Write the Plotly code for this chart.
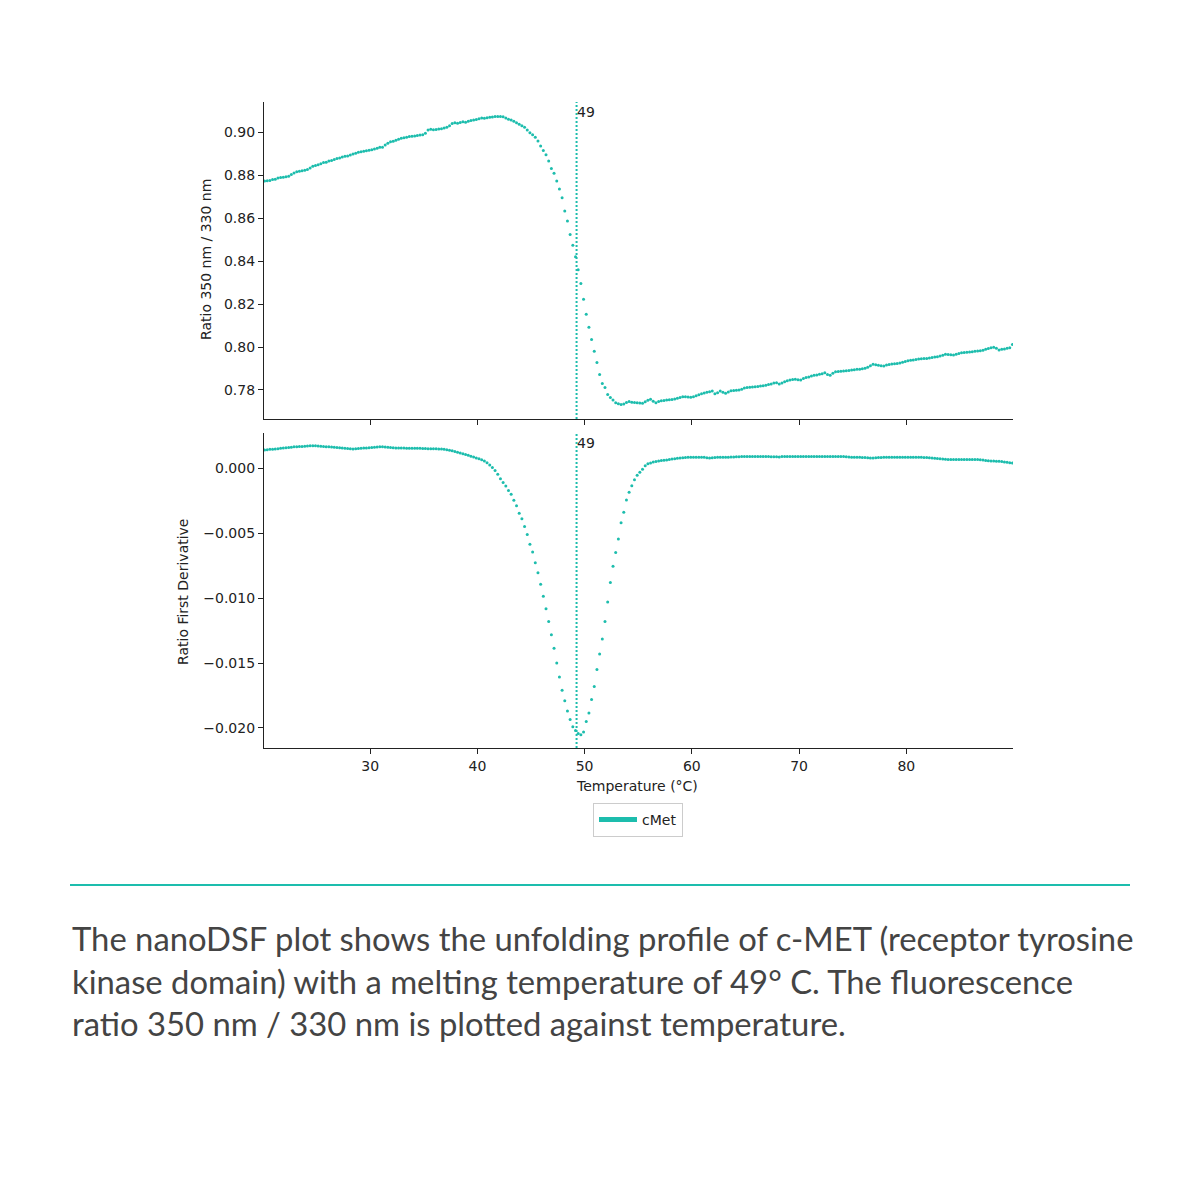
import plotly.graph_objects as go

# nanoDSF melt curve of cMet: ratio 350/330 nm and its first derivative

TEAL = "#1dbdad"
INK = "#222222"

temperature = [
    20.15, 20.4, 20.65, 20.9,
    21.15, 21.4, 21.65, 21.9,
    22.15, 22.4, 22.65, 22.9,
    23.15, 23.4, 23.65, 23.9,
    24.15, 24.4, 24.65, 24.9,
    25.15, 25.4, 25.65, 25.9,
    26.15, 26.4, 26.65, 26.9,
    27.15, 27.4, 27.65, 27.9,
    28.15, 28.4, 28.65, 28.9,
    29.15, 29.4, 29.65, 29.9,
    30.15, 30.4, 30.65, 30.9,
    31.15, 31.4, 31.65, 31.9,
    32.15, 32.4, 32.65, 32.9,
    33.15, 33.4, 33.65, 33.9,
    34.15, 34.4, 34.65, 34.9,
    35.15, 35.4, 35.65, 35.9,
    36.15, 36.4, 36.65, 36.9,
    37.15, 37.4, 37.65, 37.9,
    38.15, 38.4, 38.65, 38.9,
    39.15, 39.4, 39.65, 39.9,
    40.15, 40.4, 40.65, 40.9,
    41.15, 41.4, 41.65, 41.9,
    42.15, 42.4, 42.65, 42.9,
    43.15, 43.4, 43.65, 43.9,
    44.15, 44.4, 44.65, 44.9,
    45.15, 45.4, 45.65, 45.9,
    46.15, 46.4, 46.65, 46.9,
    47.15, 47.4, 47.65, 47.9,
    48.15, 48.4, 48.65, 48.9,
    49.15, 49.4, 49.65, 49.9,
    50.15, 50.4, 50.65, 50.9,
    51.15, 51.4, 51.65, 51.9,
    52.15, 52.4, 52.65, 52.9,
    53.15, 53.4, 53.65, 53.9,
    54.15, 54.4, 54.65, 54.9,
    55.15, 55.4, 55.65, 55.9,
    56.15, 56.4, 56.65, 56.9,
    57.15, 57.4, 57.65, 57.9,
    58.15, 58.4, 58.65, 58.9,
    59.15, 59.4, 59.65, 59.9,
    60.15, 60.4, 60.65, 60.9,
    61.15, 61.4, 61.65, 61.9,
    62.15, 62.4, 62.65, 62.9,
    63.15, 63.4, 63.65, 63.9,
    64.15, 64.4, 64.65, 64.9,
    65.15, 65.4, 65.65, 65.9,
    66.15, 66.4, 66.65, 66.9,
    67.15, 67.4, 67.65, 67.9,
    68.15, 68.4, 68.65, 68.9,
    69.15, 69.4, 69.65, 69.9,
    70.15, 70.4, 70.65, 70.9,
    71.15, 71.4, 71.65, 71.9,
    72.15, 72.4, 72.65, 72.9,
    73.15, 73.4, 73.65, 73.9,
    74.15, 74.4, 74.65, 74.9,
    75.15, 75.4, 75.65, 75.9,
    76.15, 76.4, 76.65, 76.9,
    77.15, 77.4, 77.65, 77.9,
    78.15, 78.4, 78.65, 78.9,
    79.15, 79.4, 79.65, 79.9,
    80.15, 80.4, 80.65, 80.9,
    81.15, 81.4, 81.65, 81.9,
    82.15, 82.4, 82.65, 82.9,
    83.15, 83.4, 83.65, 83.9,
    84.15, 84.4, 84.65, 84.9,
    85.15, 85.4, 85.65, 85.9,
    86.15, 86.4, 86.65, 86.9,
    87.15, 87.4, 87.65, 87.9,
    88.15, 88.4, 88.65, 88.9,
    89.15, 89.4, 89.65, 89.9,
]

ratio_350_330 = [
    0.8772, 0.8774, 0.8775, 0.8779,
    0.8781, 0.8786, 0.8789, 0.8790,
    0.8792, 0.8795, 0.8803, 0.8810,
    0.8816, 0.8818, 0.8820, 0.8822,
    0.8826, 0.8833, 0.8841, 0.8845,
    0.8848, 0.8853, 0.8858, 0.8860,
    0.8865, 0.8868, 0.8873, 0.8877,
    0.8880, 0.8884, 0.8887, 0.8889,
    0.8893, 0.8898, 0.8902, 0.8906,
    0.8909, 0.8911, 0.8913, 0.8915,
    0.8918, 0.8921, 0.8925, 0.8929,
    0.8930, 0.8940, 0.8948, 0.8955,
    0.8957, 0.8962, 0.8967, 0.8971,
    0.8974, 0.8976, 0.8979, 0.8981,
    0.8982, 0.8984, 0.8986, 0.8988,
    0.8995, 0.9010, 0.9013, 0.9011,
    0.9012, 0.9014, 0.9016, 0.9019,
    0.9022, 0.9030, 0.9040, 0.9043,
    0.9041, 0.9045, 0.9048, 0.9046,
    0.9050, 0.9054, 0.9056, 0.9058,
    0.9062, 0.9065, 0.9064, 0.9067,
    0.9069, 0.9070, 0.9072, 0.9073,
    0.9072, 0.9071, 0.9066, 0.9060,
    0.9056, 0.9051, 0.9044, 0.9037,
    0.9030, 0.9022, 0.9010, 0.8997,
    0.8988, 0.8976, 0.8958, 0.8935,
    0.8914, 0.8895, 0.8866, 0.8831,
    0.8808, 0.8772, 0.8735, 0.8695,
    0.8633, 0.8586, 0.8524, 0.8474,
    0.8420, 0.8360, 0.8295, 0.8222,
    0.8152, 0.8092, 0.8035, 0.7980,
    0.7928, 0.7872, 0.7830, 0.7811,
    0.7779, 0.7765, 0.7753, 0.7741,
    0.7736, 0.7733, 0.7735, 0.7742,
    0.7746, 0.7743, 0.7742, 0.7741,
    0.7740, 0.7738, 0.7745, 0.7752,
    0.7757, 0.7748, 0.7741, 0.7746,
    0.7750, 0.7751, 0.7753, 0.7755,
    0.7756, 0.7758, 0.7762, 0.7765,
    0.7769, 0.7768, 0.7767, 0.7766,
    0.7768, 0.7773, 0.7778, 0.7782,
    0.7786, 0.7789, 0.7792, 0.7795,
    0.7782, 0.7787, 0.7795, 0.7790,
    0.7785, 0.7791, 0.7797, 0.7798,
    0.7799, 0.7800, 0.7803, 0.7809,
    0.7812, 0.7813, 0.7814, 0.7815,
    0.7816, 0.7818, 0.7820, 0.7822,
    0.7825, 0.7828, 0.7832, 0.7834,
    0.7828, 0.7833, 0.7838, 0.7843,
    0.7846, 0.7849, 0.7850, 0.7848,
    0.7847, 0.7853, 0.7858, 0.7861,
    0.7865, 0.7868, 0.7870, 0.7873,
    0.7876, 0.7880, 0.7872, 0.7868,
    0.7878, 0.7885, 0.7886, 0.7887,
    0.7888, 0.7890, 0.7891, 0.7893,
    0.7894, 0.7896, 0.7897, 0.7899,
    0.7901, 0.7906, 0.7913, 0.7920,
    0.7918, 0.7915, 0.7913, 0.7912,
    0.7916, 0.7919, 0.7921, 0.7922,
    0.7923, 0.7925, 0.7929, 0.7933,
    0.7936, 0.7938, 0.7940, 0.7942,
    0.7944, 0.7945, 0.7946, 0.7947,
    0.7949, 0.7951, 0.7953, 0.7955,
    0.7958, 0.7962, 0.7966, 0.7965,
    0.7964, 0.7963, 0.7966, 0.7970,
    0.7973, 0.7975, 0.7976, 0.7977,
    0.7978, 0.7980, 0.7981, 0.7983,
    0.7985, 0.7989, 0.7993, 0.7996,
    0.7999, 0.7994, 0.7986, 0.7989,
    0.7991, 0.7994, 0.7997, 0.8012,
]

ratio_first_derivative = [
    0.00140, 0.00142, 0.00144, 0.00145,
    0.00147, 0.00149, 0.00152, 0.00154,
    0.00156, 0.00158, 0.00161, 0.00164,
    0.00165, 0.00166, 0.00167, 0.00168,
    0.00170, 0.00172, 0.00172, 0.00171,
    0.00170, 0.00168, 0.00166, 0.00165,
    0.00164, 0.00163, 0.00161, 0.00159,
    0.00157, 0.00155, 0.00153, 0.00151,
    0.00149, 0.00147, 0.00148, 0.00150,
    0.00152, 0.00154, 0.00155, 0.00157,
    0.00159, 0.00161, 0.00163, 0.00165,
    0.00164, 0.00162, 0.00160, 0.00158,
    0.00156, 0.00154, 0.00154, 0.00154,
    0.00154, 0.00153, 0.00153, 0.00153,
    0.00153, 0.00152, 0.00152, 0.00151,
    0.00150, 0.00149, 0.00149, 0.00148,
    0.00148, 0.00147, 0.00146, 0.00144,
    0.00141, 0.00137, 0.00133, 0.00128,
    0.00122, 0.00116, 0.00110, 0.00104,
    0.00098, 0.00092, 0.00085, 0.00078,
    0.00071, 0.00064, 0.00054, 0.00041,
    0.00024, 0.00004, -0.00019, -0.00048,
    -0.00083, -0.00110, -0.00138, -0.00172,
    -0.00202, -0.00247, -0.00290, -0.00347,
    -0.00390, -0.00449, -0.00512, -0.00587,
    -0.00646, -0.00728, -0.00805, -0.00894,
    -0.00987, -0.01083, -0.01181, -0.01283,
    -0.01386, -0.01500, -0.01607, -0.01710,
    -0.01790, -0.01870, -0.01935, -0.01990,
    -0.02020, -0.02043, -0.02052, -0.02030,
    -0.01950, -0.01885, -0.01780, -0.01680,
    -0.01550, -0.01430, -0.01315, -0.01180,
    -0.01030, -0.00880, -0.00755, -0.00650,
    -0.00545, -0.00420, -0.00340, -0.00245,
    -0.00185, -0.00136, -0.00090, -0.00055,
    -0.00032, -0.00008, 0.00018, 0.00033,
    0.00040, 0.00046, 0.00051, 0.00055,
    0.00058, 0.00061, 0.00063, 0.00066,
    0.00069, 0.00072, 0.00075, 0.00077,
    0.00079, 0.00081, 0.00083, 0.00083,
    0.00083, 0.00083, 0.00083, 0.00083,
    0.00083, 0.00080, 0.00078, 0.00080,
    0.00082, 0.00083, 0.00083, 0.00083,
    0.00083, 0.00084, 0.00085, 0.00086,
    0.00087, 0.00088, 0.00089, 0.00090,
    0.00090, 0.00090, 0.00090, 0.00090,
    0.00090, 0.00090, 0.00090, 0.00089,
    0.00089, 0.00088, 0.00087, 0.00088,
    0.00085, 0.00089, 0.00090, 0.00090,
    0.00090, 0.00090, 0.00090, 0.00090,
    0.00090, 0.00090, 0.00090, 0.00090,
    0.00090, 0.00090, 0.00090, 0.00090,
    0.00090, 0.00090, 0.00090, 0.00090,
    0.00090, 0.00090, 0.00090, 0.00090,
    0.00090, 0.00088, 0.00085, 0.00084,
    0.00083, 0.00083, 0.00083, 0.00082,
    0.00081, 0.00080, 0.00078, 0.00077,
    0.00079, 0.00081, 0.00082, 0.00083,
    0.00083, 0.00083, 0.00083, 0.00083,
    0.00083, 0.00083, 0.00083, 0.00083,
    0.00083, 0.00083, 0.00083, 0.00083,
    0.00083, 0.00083, 0.00082, 0.00081,
    0.00079, 0.00077, 0.00075, 0.00074,
    0.00072, 0.00070, 0.00068, 0.00067,
    0.00067, 0.00067, 0.00067, 0.00067,
    0.00067, 0.00067, 0.00067, 0.00067,
    0.00067, 0.00067, 0.00066, 0.00064,
    0.00062, 0.00059, 0.00057, 0.00055,
    0.00054, 0.00053, 0.00052, 0.00050,
    0.00047, 0.00044, 0.00042, 0.00039,
]

melting_temp = 49.25
temp_ticks = [30, 40, 50, 60, 70, 80]
ratio_ticks = [0.78, 0.80, 0.82, 0.84, 0.86, 0.88, 0.90]
deriv_ticks = [-0.020, -0.015, -0.010, -0.005, 0.000]

caption = (
    "The nanoDSF plot shows the unfolding profile of c-MET (receptor tyrosine<br>"
    "kinase domain) with a melting temperature of 49° C. The fluorescence<br>"
    "ratio 350 nm / 330 nm is plotted against temperature."
)

# page body has an 8px margin, so screen pixels are shifted before converting
PAGE = 1200
OFFSET = 8


def px(x):
    return (x - OFFSET) / PAGE


def py(y):
    return 1 - (y - OFFSET) / PAGE


fig = go.Figure()
fig.add_trace(go.Scatter(
    x=temperature, y=ratio_350_330, mode="markers",
    marker=dict(size=3, color=TEAL), xaxis="x", yaxis="y", showlegend=False,
))
fig.add_trace(go.Scatter(
    x=temperature, y=ratio_first_derivative, mode="markers",
    marker=dict(size=3, color=TEAL), xaxis="x2", yaxis="y2", showlegend=False,
))
# legend entry only (thick line swatch like matplotlib)
fig.add_trace(go.Scatter(
    x=[None], y=[None], mode="lines", name="cMet",
    line=dict(color=TEAL, width=5), xaxis="x2", yaxis="y2",
))

axis_style = dict(
    showline=True, linecolor=INK, linewidth=1.2, mirror=False,
    ticks="outside", ticklen=5, tickwidth=1.2, tickcolor=INK,
    showgrid=False, zeroline=False,
    tickfont=dict(family="DejaVu Sans", size=14, color=INK),
)
x_dom = [px(264), px(1013)]
x_range = [20.1, 89.95]

fig.update_layout(
    width=PAGE, height=PAGE, autosize=False,
    margin=dict(l=0, r=0, t=0, b=0),
    paper_bgcolor="white", plot_bgcolor="white",
    font=dict(family="DejaVu Sans", size=14, color=INK),
    xaxis=dict(axis_style, domain=x_dom, anchor="y", range=x_range,
               tickvals=temp_ticks, showticklabels=False),
    yaxis=dict(axis_style, domain=[py(419), py(102)], anchor="x",
               range=[0.7665, 0.914], tickvals=ratio_ticks, tickformat=".2f"),
    xaxis2=dict(axis_style, domain=x_dom, anchor="y2", range=x_range,
                tickvals=temp_ticks),
    yaxis2=dict(axis_style, domain=[py(748), py(433)], anchor="x2",
                range=[-0.02154, 0.0027], tickvals=deriv_ticks, tickformat=".3f"),
    legend=dict(
        x=px(638), xanchor="center", y=py(803), yanchor="top",
        bordercolor="#cccccc", borderwidth=1, bgcolor="white",
        itemwidth=38, tracegroupgap=0,
        font=dict(family="DejaVu Sans", size=14, color=INK),
    ),
)

# dotted melting temperature marker in both panels
for yref in ["y domain", "y2 domain"]:
    fig.add_shape(type="line", xref="x", yref=yref,
                  x0=melting_temp, x1=melting_temp, y0=0, y1=1,
                  line=dict(color=TEAL, width=2, dash="2px,2px"))
    fig.add_annotation(x=melting_temp, xref="x", y=1, yref=yref,
                       text=str(int(melting_temp)), showarrow=False,
                       xanchor="left", yanchor="top", xshift=-2,
                       font=dict(family="DejaVu Sans", size=14, color=INK))

fig.add_annotation(x=px(206), y=py(260), xref="paper", yref="paper",
                   xanchor="center", yanchor="middle",
                   text="Ratio 350 nm / 330 nm", textangle=-90, showarrow=False,
                   font=dict(family="DejaVu Sans", size=14, color=INK))
fig.add_annotation(x=px(183), y=py(592), xref="paper", yref="paper",
                   xanchor="center", yanchor="middle",
                   text="Ratio First Derivative", textangle=-90, showarrow=False,
                   font=dict(family="DejaVu Sans", size=14, color=INK))
fig.add_annotation(x=px(637), y=py(786), xref="paper", yref="paper",
                   xanchor="center", yanchor="middle",
                   text="Temperature (°C)", showarrow=False,
                   font=dict(family="DejaVu Sans", size=14, color=INK))

# divider and caption below the chart
fig.add_shape(type="line", xref="paper", yref="paper",
              x0=px(70), x1=px(1130), y0=py(885), y1=py(885),
              line=dict(color=TEAL, width=2))
fig.add_annotation(x=px(70), y=py(981), xref="paper", yref="paper",
                   xanchor="left", yanchor="middle", align="left",
                   text=caption, showarrow=False,
                   font=dict(family="Lato", size=32.8, color="#444444"))

fig.write_html("out.html")
